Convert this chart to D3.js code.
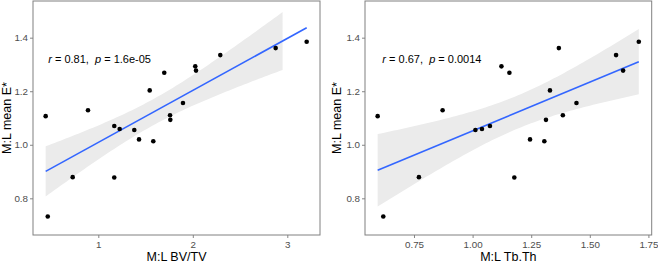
<!DOCTYPE html>
<html>
<head>
<meta charset="utf-8">
<script src="https://cdn.jsdelivr.net/npm/d3@7"></script>
<style>
  html, body { margin: 0; padding: 0; background: #fff; }
  svg { display: block; font-family: "Liberation Sans", Arial, sans-serif; }
</style>
</head>
<body>
<svg id="chart" width="658" height="263"></svg>
<script>
// ---- data ----
const meanE = [1.107, 0.732, 0.879, 1.129, 1.070, 0.878, 1.059, 1.055, 1.020, 1.203,
               1.013, 1.269, 1.110, 1.093, 1.156, 1.293, 1.277, 1.335, 1.361, 1.385];
const bvtv  = [0.443, 0.465, 0.729, 0.891, 1.169, 1.169, 1.226, 1.381, 1.431, 1.544,
               1.582, 1.698, 1.759, 1.762, 1.896, 2.026, 2.034, 2.291, 2.877, 3.205];
const tbth  = [0.595, 0.619, 0.771, 0.872, 1.074, 1.178, 1.040, 1.012, 1.245, 1.330,
               1.306, 1.157, 1.385, 1.313, 1.443, 1.123, 1.642, 1.612, 1.368, 1.709];
const yTicks = [0.8, 1.0, 1.2, 1.4];
const xTicksBV = [1, 2, 3];
const xTicksTb = [0.75, 1.00, 1.25, 1.50, 1.75];
const statsBV = "0.81", pBV = "1.6e-05";
const statsTb = "0.67", pTb = "0.0014";
const bandMaxBV = 2.95;   // the shaded band in the left panel stops here
const yDomain = [0.663, 1.537];

const svg = d3.select("#chart");

function fit(xs, ys) {
  const n = xs.length;
  const mx = d3.mean(xs), my = d3.mean(ys);
  let sxx = 0, sxy = 0;
  for (let i = 0; i < n; i++) { sxx += (xs[i]-mx)**2; sxy += (xs[i]-mx)*(ys[i]-my); }
  const b = sxy / sxx, a = my - b * mx;
  let sse = 0;
  for (let i = 0; i < n; i++) sse += (ys[i] - a - b*xs[i])**2;
  const s = Math.sqrt(sse / (n - 2));
  const t = 2.100922; // t(0.975, df=18)
  return { a, b, se: x => t * s * Math.sqrt(1/n + (x-mx)**2/sxx) };
}

function panel(cfg) {
  const { x0, x1, y0, y1, xs, ys, xTicks, xFmt, xTitle, r, p, bandMax, titleX } = cfg;
  const x = d3.scaleLinear().domain(cfg.xDomain).range([x0, x1]);
  const y = d3.scaleLinear().domain(yDomain).range([y1, y0]);
  const g = svg.append("g");

  const f = fit(xs, ys);
  const xmin = d3.min(xs), xmax = d3.max(xs);
  const bmax = Math.min(bandMax, xmax);
  const steps = d3.range(0, 81).map(i => xmin + (bmax - xmin) * i / 80);
  const area = d3.area()
    .x(d => x(d))
    .y0(d => y(f.a + f.b*d - f.se(d)))
    .y1(d => y(f.a + f.b*d + f.se(d)));
  g.append("path").attr("d", area(steps)).attr("fill", "#ebebeb");

  g.append("line")
    .attr("x1", x(xmin)).attr("y1", y(f.a + f.b*xmin))
    .attr("x2", x(xmax)).attr("y2", y(f.a + f.b*xmax))
    .attr("stroke", "#3366FF").attr("stroke-width", 1.6);

  g.selectAll("circle.pt").data(xs.map((v, i) => [v, ys[i]])).enter()
    .append("circle").attr("class", "pt")
    .attr("cx", d => x(d[0])).attr("cy", d => y(d[1])).attr("r", 2.3)
    .attr("fill", "#000");

  // annotation
  const t = g.append("text")
    .attr("x", x(cfg.annX)).attr("y", y(1.305))
    .attr("font-size", 11).attr("fill", "#000");
  t.append("tspan").attr("font-style", "italic").text("r");
  t.append("tspan").text(" = " + r + ",\u00a0\u00a0");
  t.append("tspan").attr("font-style", "italic").text("p");
  t.append("tspan").text(" = " + p);

  // axes
  const ax = g.append("g").attr("transform", `translate(0,${y1})`)
    .call(d3.axisBottom(x).tickValues(xTicks).tickFormat(xFmt).tickSize(3).tickPadding(2.7));
  const ay = g.append("g").attr("transform", `translate(${x0},0)`)
    .call(d3.axisLeft(y).tickValues(yTicks).tickFormat(d3.format(".1f")).tickSize(3).tickPadding(2));
  [ax, ay].forEach(a => {
    a.select(".domain").remove();
    a.selectAll("line").attr("stroke", "#333").attr("stroke-width", 0.6);
    a.selectAll("text").attr("fill", "#4d4d4d").attr("font-size", 9.8)
      .attr("font-family", "'Liberation Sans', Arial, sans-serif");
  });

  // border
  g.append("rect").attr("x", x0).attr("y", y0).attr("width", x1 - x0).attr("height", y1 - y0)
    .attr("fill", "none").attr("stroke", "#808080").attr("stroke-width", 1);

  // titles
  g.append("text").attr("x", (x0 + x1) / 2).attr("y", 261).attr("text-anchor", "middle")
    .attr("font-size", 12.5).attr("fill", "#000").text(xTitle);
  g.append("text").attr("transform", `translate(${titleX},${(y0 + y1) / 2}) rotate(-90)`)
    .attr("text-anchor", "middle").attr("font-size", 12.5).attr("fill", "#000").text("M:L mean E*");
}

panel({ x0: 33, x1: 320, y0: 1, y1: 235, xs: bvtv, ys: meanE, xDomain: [0.309, 3.346],
        xTicks: xTicksBV, xFmt: d3.format("d"), xTitle: "M:L BV/TV", r: statsBV, p: pBV,
        bandMax: bandMaxBV, titleX: 11, annX: 0.47 });
panel({ x0: 365, x1: 651.7, y0: 1, y1: 235, xs: tbth, ys: meanE, xDomain: [0.541, 1.764],
        xTicks: xTicksTb, xFmt: d3.format(".2f"), xTitle: "M:L Tb.Th", r: statsTb, p: pTb,
        bandMax: Infinity, titleX: 341, annX: 0.615 });
</script>
</body>
</html>
